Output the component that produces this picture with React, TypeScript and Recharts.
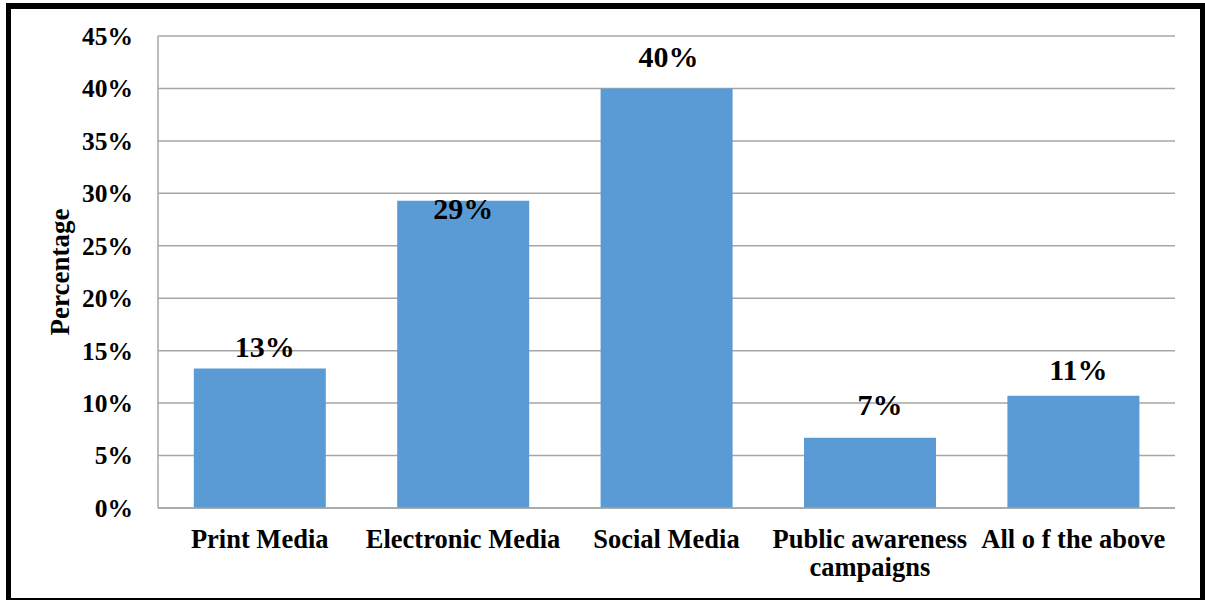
import React from "react";
import { BarChart, Bar, XAxis, YAxis, CartesianGrid, LabelList } from "recharts";

const categories = [
  "Print Media",
  "Electronic Media",
  "Social Media",
  "Public awareness\ncampaigns",
  "All o f the above",
];
const percentages = [13.3, 29.3, 40.0, 6.7, 10.7];
const yTicks = [0, 5, 10, 15, 20, 25, 30, 35, 40, 45];

// label style offsets (relative to bar top / centre)
const labelDx = [5, 0, 2, 10, 5];
const labelDy = [-11, 18, -21, -23, -16];

const data = categories.map((c, i) => ({ name: c, value: percentages[i] }));

const FONT = '"Liberation Serif", "Times New Roman", serif';

const XTick = (props: any) => {
  const { x, y, payload } = props;
  const lines = String(payload.value).split("\n");
  return (
    <g>
      {lines.map((l: string, i: number) => (
        <text
          key={i}
          x={x}
          y={y + 40 + i * 28}
          textAnchor="middle"
          fontFamily={FONT}
          fontWeight="bold"
          fontSize={26.5}
          fill="#000"
        >
          {l}
        </text>
      ))}
    </g>
  );
};

const YTick = (props: any) => {
  const { x, y, payload } = props;
  return (
    <text
      x={x}
      y={y}
      dy="0.35em"
      textAnchor="end"
      fontFamily={FONT}
      fontWeight="bold"
      fontSize={25.5}
      fill="#000"
    >
      {payload.value}%
    </text>
  );
};

const ValueLabel = (props: any) => {
  const { x, y, width, value, index } = props;
  return (
    <text
      x={x + width / 2 + labelDx[index]}
      y={y + labelDy[index]}
      textAnchor="middle"
      fontFamily={FONT}
      fontWeight="bold"
      fontSize={30}
      fill="#000"
    >
      {Math.round(value)}%
    </text>
  );
};

const YLabel = (props: any) => {
  const vb = props.viewBox || { x: 0, y: 36, width: 158, height: 472 };
  const cx = vb.x + 60;
  const cy = vb.y + vb.height / 2;
  return (
    <text
      x={cx}
      y={cy}
      transform={`rotate(-90, ${cx}, ${cy})`}
      textAnchor="middle"
      dominantBaseline="central"
      fontFamily={FONT}
      fontWeight="bold"
      fontSize={27}
      fill="#000"
    >
      Percentage
    </text>
  );
};

export default function App() {
  return (
    <div
      style={{
        position: "absolute",
        left: 0,
        top: 0,
        width: 1205,
        height: 600,
        background: "#fff",
        overflow: "hidden",
      }}
    >
      <div
        style={{
          position: "absolute",
          left: 6,
          top: 3,
          width: 1199,
          height: 600,
          boxSizing: "border-box",
          border: "5px solid #000",
          borderTopWidth: 6,
        }}
      />
      <div style={{ position: "absolute", left: 0, top: 0 }}>
        <BarChart
          width={1205}
          height={600}
          data={data}
          margin={{ top: 36, right: 30, bottom: 0, left: 0 }}
          barCategoryGap="17.6%"
        >
          <CartesianGrid vertical={false} stroke="#a6a6a6" strokeWidth={1.5} />
          <XAxis
            dataKey="name"
            axisLine={{ stroke: "#a6a6a6", strokeWidth: 1.5 }}
            tickLine={false}
            tickSize={0}
            tickMargin={0}
            height={92}
            interval={0}
            tick={<XTick />}
          />
          <YAxis
            width={158}
            domain={[0, 45]}
            ticks={yTicks}
            interval={0}
            axisLine={{ stroke: "#a6a6a6", strokeWidth: 1.5 }}
            tickLine={false}
            tickSize={0}
            tickMargin={25}
            tick={<YTick />}
            label={<YLabel />}
          />
          <Bar dataKey="value" fill="#5B9BD5" isAnimationActive={false}>
            <LabelList dataKey="value" content={<ValueLabel />} />
          </Bar>
        </BarChart>
      </div>
    </div>
  );
}
